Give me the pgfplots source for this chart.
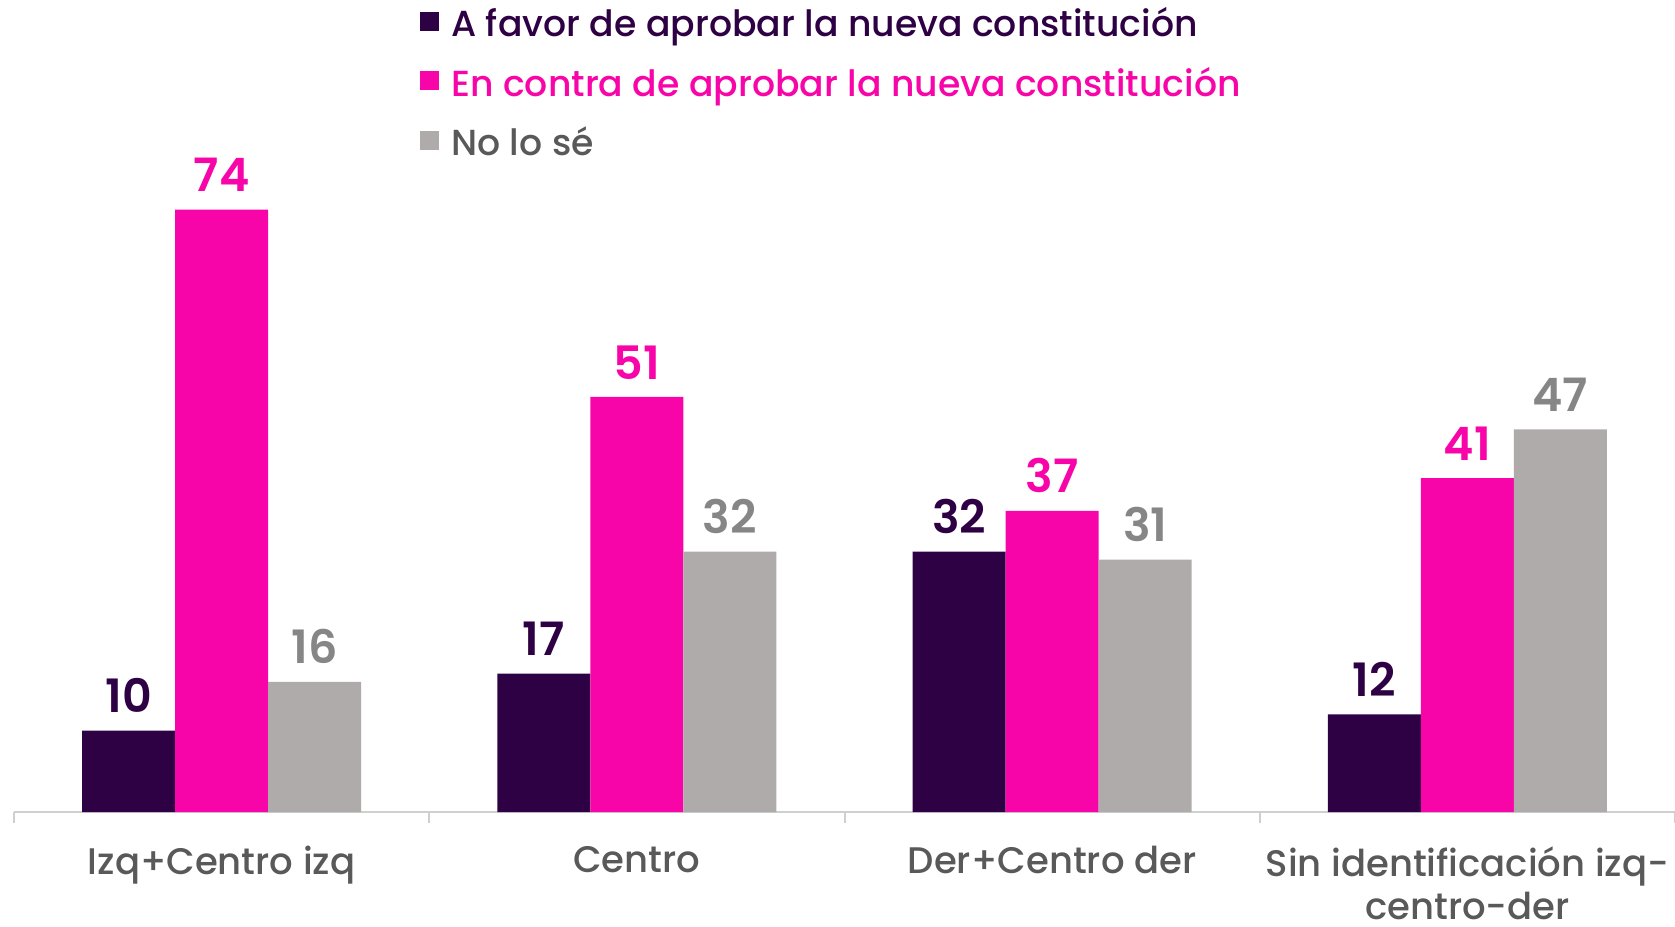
\documentclass[border=0pt]{standalone}
\usepackage{pgfplots}
\pgfplotsset{compat=1.18}
\usepackage{fontspec}
\setmainfont{Poppins}[UprightFont=*-Medium,BoldFont=*-SemiBold]
\definecolor{cfavor}{HTML}{2E0044}
\definecolor{ccontra}{HTML}{F705A8}
\definecolor{cnose}{HTML}{AFABAB}
\definecolor{cnoselab}{HTML}{868686}
\definecolor{ctext}{HTML}{595959}
\definecolor{caxis}{HTML}{CFCFCF}
\begin{document}
\begin{tikzpicture}
\useasboundingbox (-7pt,-57pt) rectangle (830.5pt,406pt);
\begin{axis}[
 at={(0,0)}, anchor=south west,
 width=830.5pt, height=406pt, scale only axis,
 /pgf/number format/assume math mode=true,
 xmin=-0.5, xmax=3.5, ymin=0, ymax=99.75,
 ybar=0pt, bar width=46.5pt,
 axis x line*=bottom, axis y line=none,
 x axis line style={draw=caxis, line width=1pt, -},
 xtick={0,1,2,3},
 xticklabels={Izq+Centro izq, Centro, Der+Centro der, {Sin identificación izq-\\centro-der}},
 xticklabel style={font=\fontsize{18.5}{21.6}\selectfont, text=ctext, align=center, inner sep=0pt, yshift=-17pt},
 major tick length=0pt,
 extra x ticks={-0.5,0.5,1.5,2.5,3.5},
 extra x tick labels={},
 extra x tick style={major tick length=5.5pt, tick align=outside, tick style={draw=caxis, line width=1pt}},
 nodes near coords,
 every node near coord/.append style={font=\fontsize{23}{26}\selectfont\bfseries, yshift=5.3pt},
 legend style={draw=none, fill=none, inner sep=0pt, at={(axis description cs:0.2444,0.9937)}, anchor=north west,
   font=\fontsize{18.1}{21}\selectfont, nodes={inner sep=1.5pt, text height=14pt, text depth=5pt}, row sep=7.8pt},
 legend cell align=left,
 legend image code/.code={\fill[#1] (0pt,-1.5pt) rectangle (9.5pt,8pt); \path (14pt,0pt);},
]
\addplot[fill=cfavor, draw=none, every node near coord/.append style={text=cfavor}] coordinates {(0,10) (1,17) (2,32) (3,12)};
\addplot[fill=ccontra, draw=none, every node near coord/.append style={text=ccontra}] coordinates {(0,74) (1,51) (2,37) (3,41)};
\addplot[fill=cnose, draw=none, every node near coord/.append style={text=cnoselab}] coordinates {(0,16) (1,32) (2,31) (3,47)};
\legend{{\color{cfavor}A favor de aprobar la nueva constitución},{\color{ccontra}En contra de aprobar la nueva constitución},{\color{ctext}No lo sé}}
\end{axis}
\end{tikzpicture}
\end{document}
